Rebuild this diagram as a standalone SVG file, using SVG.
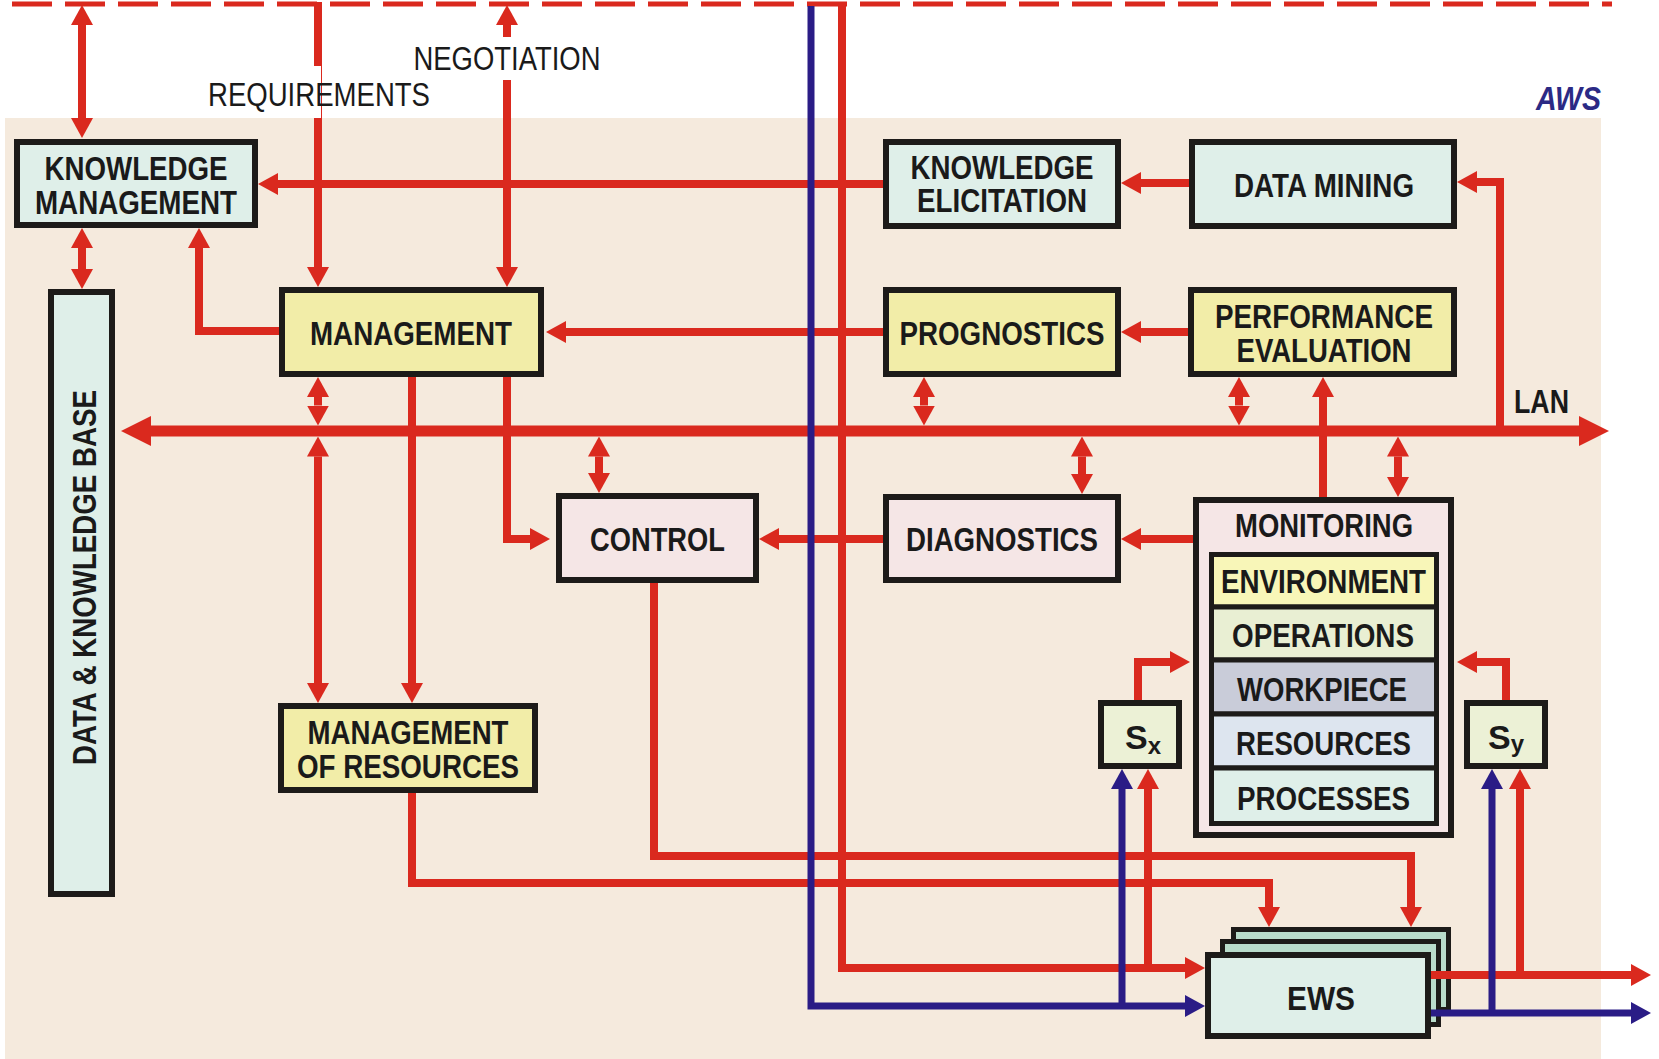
<svg xmlns="http://www.w3.org/2000/svg" width="1659" height="1059" viewBox="0 0 1659 1059">
<defs>
<style>
.box{stroke:#1d1b19;stroke-width:6}
.row{stroke:#1d1b19;stroke-width:5}
.mint{fill:#dfefe9}
.yel{fill:#f2eda8}
.pink{fill:#f5e6e6}
.t{font-family:'Liberation Sans Narrow','Liberation Sans',Arial,sans-serif;font-weight:bold;font-size:34px;fill:#1a1a1a;text-anchor:middle}
.ts{font-family:'Liberation Sans Narrow','Liberation Sans',Arial,sans-serif;font-weight:bold;fill:#1a1a1a}
.lbl{font-family:'Liberation Sans Narrow','Liberation Sans',Arial,sans-serif;font-weight:normal;font-size:33px;fill:#1a1a1a}
.r{fill:none;stroke:#da291e;stroke-width:8;stroke-linejoin:miter}
.b{fill:none;stroke:#2a1c86;stroke-width:7;stroke-linejoin:miter}
</style>
<marker id="ar" markerUnits="userSpaceOnUse" markerWidth="20" markerHeight="22" viewBox="0 0 20 22" refX="0" refY="11" orient="auto-start-reverse"><path d="M0,0 L20,11 L0,22 z" fill="#da291e"/></marker>
<marker id="ab" markerUnits="userSpaceOnUse" markerWidth="20" markerHeight="22" viewBox="0 0 20 22" refX="0" refY="11" orient="auto-start-reverse"><path d="M0,0 L20,11 L0,22 z" fill="#2a1c86"/></marker>
<marker id="al" markerUnits="userSpaceOnUse" markerWidth="30" markerHeight="30" viewBox="0 0 30 30" refX="0" refY="15" orient="auto-start-reverse"><path d="M0,0 L30,15 L0,30 z" fill="#da291e"/></marker>
</defs>
<rect x="0" y="0" width="1659" height="1059" fill="#ffffff"/>
<rect x="5" y="118" width="1596" height="941" fill="#f5eadd"/>

<g id="nodes">
<g id="knowledge-management"><rect class="box mint" x="17" y="142" width="238" height="83"/>
<text class="t"><tspan x="136" y="180" textLength="183" lengthAdjust="spacingAndGlyphs">KNOWLEDGE</tspan><tspan x="136" y="214" textLength="202" lengthAdjust="spacingAndGlyphs">MANAGEMENT</tspan></text></g>
<g id="data-knowledge-base"><rect class="box mint" x="51" y="292" width="61" height="602"/>
<text class="t" transform="translate(96,577.5) rotate(-90)" x="0" y="0" textLength="375" lengthAdjust="spacingAndGlyphs">DATA &amp; KNOWLEDGE BASE</text></g>
<g id="management"><rect class="box yel" x="282" y="290" width="259" height="84"/>
<text class="t" x="411" y="345" textLength="202" lengthAdjust="spacingAndGlyphs">MANAGEMENT</text></g>
<g id="knowledge-elicitation"><rect class="box mint" x="886" y="142" width="232" height="84"/>
<text class="t"><tspan x="1002" y="179" textLength="183" lengthAdjust="spacingAndGlyphs">KNOWLEDGE</tspan><tspan x="1002" y="212" textLength="170" lengthAdjust="spacingAndGlyphs">ELICITATION</tspan></text></g>
<g id="data-mining"><rect class="box mint" x="1192" y="142" width="262" height="84"/>
<text class="t" x="1324" y="197" textLength="180" lengthAdjust="spacingAndGlyphs">DATA MINING</text></g>
<g id="prognostics"><rect class="box yel" x="886" y="290" width="232" height="84"/>
<text class="t" x="1002" y="345" textLength="205" lengthAdjust="spacingAndGlyphs">PROGNOSTICS</text></g>
<g id="performance-evaluation"><rect class="box yel" x="1191" y="290" width="263" height="84"/>
<text class="t"><tspan x="1324" y="328" textLength="218" lengthAdjust="spacingAndGlyphs">PERFORMANCE</tspan><tspan x="1324" y="362" textLength="175" lengthAdjust="spacingAndGlyphs">EVALUATION</tspan></text></g>
<g id="control"><rect class="box pink" x="559" y="496" width="197" height="84"/>
<text class="t" x="657.5" y="551" textLength="135" lengthAdjust="spacingAndGlyphs">CONTROL</text></g>
<g id="diagnostics"><rect class="box pink" x="886" y="497" width="232" height="83"/>
<text class="t" x="1002" y="551" textLength="192" lengthAdjust="spacingAndGlyphs">DIAGNOSTICS</text></g>
<g id="monitoring"><rect class="box pink" x="1196" y="500" width="255" height="335"/>
<text class="t" x="1324" y="537" textLength="178" lengthAdjust="spacingAndGlyphs">MONITORING</text>
<rect class="row" fill="#f8f6b8" x="1211.5" y="554.5" width="225" height="52.5"/>
<rect class="row" fill="#e9efd3" x="1211.5" y="607" width="225" height="53"/>
<rect class="row" fill="#c9ccd9" x="1211.5" y="660" width="225" height="54"/>
<rect class="row" fill="#dde5ef" x="1211.5" y="714" width="225" height="54"/>
<rect class="row" fill="#dfefe9" x="1211.5" y="768" width="225" height="55.5"/>
<text class="t" x="1323.5" y="593" textLength="205" lengthAdjust="spacingAndGlyphs">ENVIRONMENT</text>
<text class="t" x="1323" y="647" textLength="182" lengthAdjust="spacingAndGlyphs">OPERATIONS</text>
<text class="t" x="1322" y="701" textLength="170" lengthAdjust="spacingAndGlyphs">WORKPIECE</text>
<text class="t" x="1323.5" y="755" textLength="175" lengthAdjust="spacingAndGlyphs">RESOURCES</text>
<text class="t" x="1323.5" y="810" textLength="173" lengthAdjust="spacingAndGlyphs">PROCESSES</text></g>
<g id="sx"><rect class="box" fill="#ecf1d6" x="1101" y="703" width="78" height="63"/>
<text class="ts" x="1125" y="749"><tspan font-size="34">S</tspan><tspan font-size="24" dy="5">x</tspan></text></g>
<g id="sy"><rect class="box" fill="#ecf1d6" x="1467" y="703" width="78" height="63"/>
<text class="ts" x="1488" y="749"><tspan font-size="34">S</tspan><tspan font-size="24" dy="3">y</tspan></text></g>
<g id="management-of-resources"><rect class="box yel" x="281" y="706" width="254" height="84"/>
<text class="t" font-size="33"><tspan x="408" y="744" textLength="201" lengthAdjust="spacingAndGlyphs">MANAGEMENT</tspan><tspan x="408" y="778" textLength="222" lengthAdjust="spacingAndGlyphs">OF RESOURCES</tspan></text></g>
<g id="ews"><rect class="row" fill="#b9dccb" x="1233.5" y="929.5" width="215" height="80"/>
<rect class="row" fill="#b9dccb" x="1222.5" y="941.5" width="216" height="83"/>
<rect class="box mint" x="1208" y="955" width="220" height="81"/>
<text class="t" x="1321" y="1010" font-size="37" textLength="68" lengthAdjust="spacingAndGlyphs">EWS</text></g>
</g>

<g id="connectors">
<path d="M12,4 H1612" fill="none" stroke="#da291e" stroke-width="5" stroke-dasharray="40 13"/>
<path class="r" d="M318,2 V267" marker-end="url(#ar)"/>
<path class="r" d="M507,80 V267" marker-end="url(#ar)"/>
<path class="r" d="M507,37 V25" marker-end="url(#ar)"/>
<path class="r" d="M883,184 H278" marker-end="url(#ar)"/>
<path class="r" d="M279,331 H199 V248" marker-end="url(#ar)"/>
<path class="r" d="M883,332 H566" marker-end="url(#ar)"/>
<path class="r" d="M1189,183 H1141" marker-end="url(#ar)"/>
<path class="r" d="M1188,332 H1141" marker-end="url(#ar)"/>
<path class="r" d="M1500,431 V182 H1477" marker-end="url(#ar)"/>
<path class="r" d="M412,377 V683" marker-end="url(#ar)"/>
<path class="r" d="M507,377 V539 H530" marker-end="url(#ar)"/>
<path class="r" d="M883,539 H779" marker-end="url(#ar)"/>
<path class="r" d="M1323,497 V397" marker-end="url(#ar)"/>
<path class="r" d="M1193,539 H1141" marker-end="url(#ar)"/>
<path class="r" d="M1138,700 V662 H1170" marker-end="url(#ar)"/>
<path class="r" d="M1506,700 V662 H1477" marker-end="url(#ar)"/>
<path class="r" d="M654,583 V856 H1411 V907" marker-end="url(#ar)"/>
<path class="r" d="M412,793 V883 H1269 V907" marker-end="url(#ar)"/>
<path class="r" d="M842,2 V968 H1185" marker-end="url(#ar)"/>
<path class="r" d="M1148,968 V789" marker-end="url(#ar)"/>
<path class="r" d="M1431,975 H1631" marker-end="url(#ar)"/>
<path class="r" d="M1520,975 V789" marker-end="url(#ar)"/>
<path class="r" d="M82,25 V118" marker-start="url(#ar)" marker-end="url(#ar)"/>
<path class="r" d="M82,248 V269" marker-start="url(#ar)" marker-end="url(#ar)"/>
<path class="r" d="M318,397 V405.5" marker-start="url(#ar)" marker-end="url(#ar)"/>
<path class="r" d="M318,456.5 V683" marker-start="url(#ar)" marker-end="url(#ar)"/>
<path class="r" d="M599,456.5 V473" marker-start="url(#ar)" marker-end="url(#ar)"/>
<path class="r" d="M924,397 V405.5" marker-start="url(#ar)" marker-end="url(#ar)"/>
<path class="r" d="M1239,397 V405.5" marker-start="url(#ar)" marker-end="url(#ar)"/>
<path class="r" d="M1082,456.5 V474" marker-start="url(#ar)" marker-end="url(#ar)"/>
<path class="r" d="M1398,456.5 V477" marker-start="url(#ar)" marker-end="url(#ar)"/>
<path d="M151,431 H1579" fill="none" stroke="#da291e" stroke-width="11" marker-start="url(#al)" marker-end="url(#al)"/>
<path class="b" d="M811,6 V1006 H1185" marker-end="url(#ab)"/>
<path class="b" d="M1122,1006 V789" marker-end="url(#ab)"/>
<path class="b" d="M1431,1013 H1631" marker-end="url(#ab)"/>
<path class="b" d="M1492,1013 V789" marker-end="url(#ab)"/>
</g>

<g id="labels">
<rect x="290" y="66" width="31" height="52" fill="#ffffff"/>
<text class="lbl" x="208" y="106" textLength="222" lengthAdjust="spacingAndGlyphs">REQUIREMENTS</text>
<text class="lbl" x="413.5" y="70" textLength="187" lengthAdjust="spacingAndGlyphs">NEGOTIATION</text>
<text class="t" x="1541.5" y="413" font-size="33" textLength="55" lengthAdjust="spacingAndGlyphs">LAN</text>
<text x="1568.5" y="110" font-family="'Liberation Sans Narrow','Liberation Sans',Arial,sans-serif" font-weight="bold" font-style="italic" font-size="34" fill="#2b2a85" text-anchor="middle" textLength="65" lengthAdjust="spacingAndGlyphs">AWS</text>
</g>
</svg>
